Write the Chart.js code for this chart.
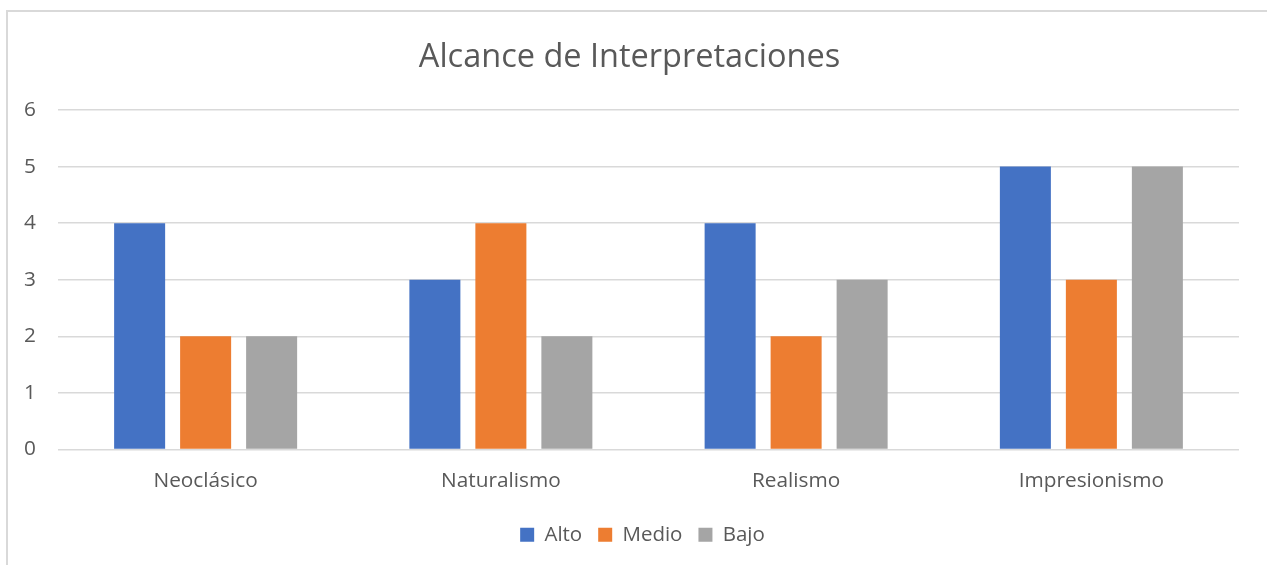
<!DOCTYPE html>
<html><head><meta charset="utf-8">
<script src="https://cdn.jsdelivr.net/npm/chart.js@4/dist/chart.umd.min.js"></script>
<style>
html,body{margin:0;padding:0;background:#fff;}
#wrap{position:relative;width:1267px;height:565px;overflow:hidden;}
#frame{position:absolute;left:6px;top:10px;width:1400px;height:700px;border:2px solid #D9D9D9;box-sizing:border-box;}
canvas{position:absolute;left:0;top:0;}
</style></head><body>
<div id="wrap"><div id="frame"></div><canvas id="c" width="1267" height="565"></canvas></div>
<script>
const categories = ['Neoclásico', 'Naturalismo', 'Realismo', 'Impresionismo'];
const seriesNames = ['Alto', 'Medio', 'Bajo'];
const alto = [4, 3, 4, 5];
const medio = [2, 4, 2, 3];
const bajo = [2, 2, 3, 5];
const yTicks = [0, 1, 2, 3, 4, 5, 6];
const titleText = 'Alcance de Interpretaciones';

const colors = ['#4472C4', '#ED7D31', '#A5A5A5'];
const seriesValues = [alto, medio, bajo];
const FONT = "'Open Sans', 'Noto Sans', sans-serif";
const TEXT = '#595959';

const legendShift = {
  id: 'legendShift',
  afterLayout(chart) {
    if (chart.legend) { chart.legend.left += 13; chart.legend.right += 13; }
  }
};

new Chart(document.getElementById('c'), {
  type: 'bar',
  plugins: [legendShift],
  data: {
    labels: categories,
    datasets: seriesNames.map((n, i) => ({
      label: n,
      data: seriesValues[i],
      backgroundColor: colors[i],
      borderWidth: 0,
      categoryPercentage: 0.6706,
      barPercentage: 0.773
    }))
  },
  options: {
    responsive: false,
    animation: false,
    devicePixelRatio: 1,
    layout: { padding: { left: 20, right: 28, top: 0, bottom: 10 } },
    plugins: {
      title: {
        display: true, text: titleText, color: TEXT,
        font: { family: FONT, size: 32.5, weight: 'normal' },
        padding: { top: 38, bottom: 33 }
      },
      legend: {
        position: 'bottom',
        labels: {
          color: TEXT, boxWidth: 14, boxHeight: 14, padding: 16,
          font: { family: FONT, size: 20.5 }
        }
      },
      tooltip: { enabled: false }
    },
    scales: {
      x: {
        afterFit: s => { s.height = 59; },
        grid: { display: false },
        border: { display: false },
        ticks: { color: TEXT, padding: 11, font: { family: FONT, size: 20.8 } }
      },
      y: {
        min: yTicks[0], max: yTicks[yTicks.length - 1],
        afterFit: s => { s.width = 38; },
        afterBuildTicks: s => { s.ticks = yTicks.map(v => ({ value: v })); },
        grid: { color: '#D9D9D9', lineWidth: 1.5, drawTicks: false },
        border: { display: false },
        ticks: { color: TEXT, padding: 22, font: { family: FONT, size: 20.8 } }
      }
    }
  }
});
</script>
</body></html>
